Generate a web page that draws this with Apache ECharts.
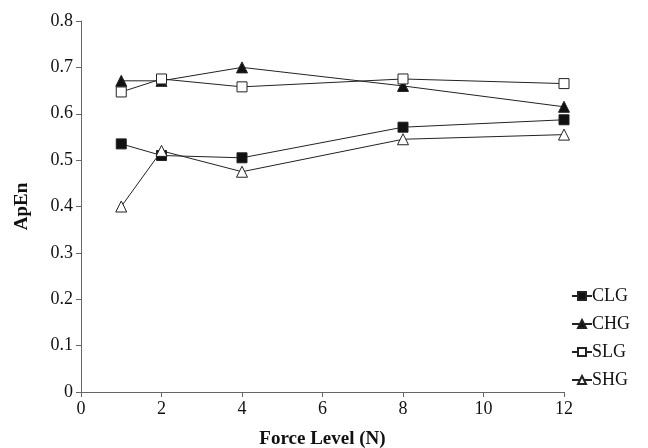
<!DOCTYPE html>
<html><head><meta charset="utf-8">
<script src="https://cdn.jsdelivr.net/npm/echarts@6/dist/echarts.min.js"></script>
<style>html,body{margin:0;padding:0;background:#fff}#c{width:648px;height:448px}</style>
</head><body><div id="c"></div>
<script>
const forceLevels = [1, 2, 4, 8, 12];
const CLG = [0.535, 0.510, 0.505, 0.571, 0.587];
const CHG = [0.671, 0.671, 0.700, 0.660, 0.615];
const SLG = [0.647, 0.675, 0.658, 0.675, 0.665];
const SHG = [0.400, 0.520, 0.475, 0.545, 0.555];
const seriesNames = ['CLG', 'CHG', 'SLG', 'SHG'];
const seriesData = [CLG, CHG, SLG, SHG];
const symbols = ['rect', 'triangle', 'rect', 'triangle'];
const filled = [true, true, false, false];

const font = 'Liberation Serif';
const chart = echarts.init(document.getElementById('c'));
chart.setOption({
  animation: false,
  grid: {left: 81, right: 84, top: 21, bottom: 56, containLabel: false, outerBoundsMode: 'none'},
  xAxis: {
    type: 'value', min: 0, max: 12, interval: 2,
    name: 'Force Level (N)', nameLocation: 'middle', nameGap: 38,
    nameTextStyle: {fontFamily: font, fontWeight: 'bold', fontSize: 19, color: '#111'},
    axisLine: {lineStyle: {color: '#666', width: 1}},
    axisTick: {show: true, length: 5, lineStyle: {color: '#666'}},
    axisLabel: {fontFamily: font, fontSize: 18, color: '#111', margin: 8},
    splitLine: {show: false}
  },
  yAxis: {
    type: 'value', min: 0, max: 0.8, interval: 0.1,
    name: 'ApEn', nameLocation: 'middle', nameGap: 49,
    nameTextStyle: {fontFamily: font, fontWeight: 'bold', fontSize: 19, color: '#111'},
    axisLine: {show: true, lineStyle: {color: '#666', width: 1}},
    axisTick: {show: true, length: 5, lineStyle: {color: '#666'}},
    axisLabel: {fontFamily: font, fontSize: 18, color: '#111', margin: 8,
      formatter: v => String(Math.round(v * 10) / 10)},
    splitLine: {show: false}
  },
  legend: {
    orient: 'vertical', left: 566, top: 282, itemGap: 10,
    itemWidth: 20, itemHeight: 10,
    textStyle: {fontFamily: font, fontSize: 18, color: '#111', padding: [0, 0, 0, -5]},
    data: seriesNames
  },
  series: seriesNames.map((n, i) => ({
    name: n, type: 'line',
    data: forceLevels.map((x, j) => [x, seriesData[i][j]]),
    symbol: symbols[i], symbolSize: symbols[i] === 'rect' ? 10 : 11,
    showAllSymbol: true,
    lineStyle: {color: '#222', width: 1},
    itemStyle: {color: filled[i] ? '#111' : '#fff', borderColor: '#222', borderWidth: 1}
  }))
});
</script></body></html>
